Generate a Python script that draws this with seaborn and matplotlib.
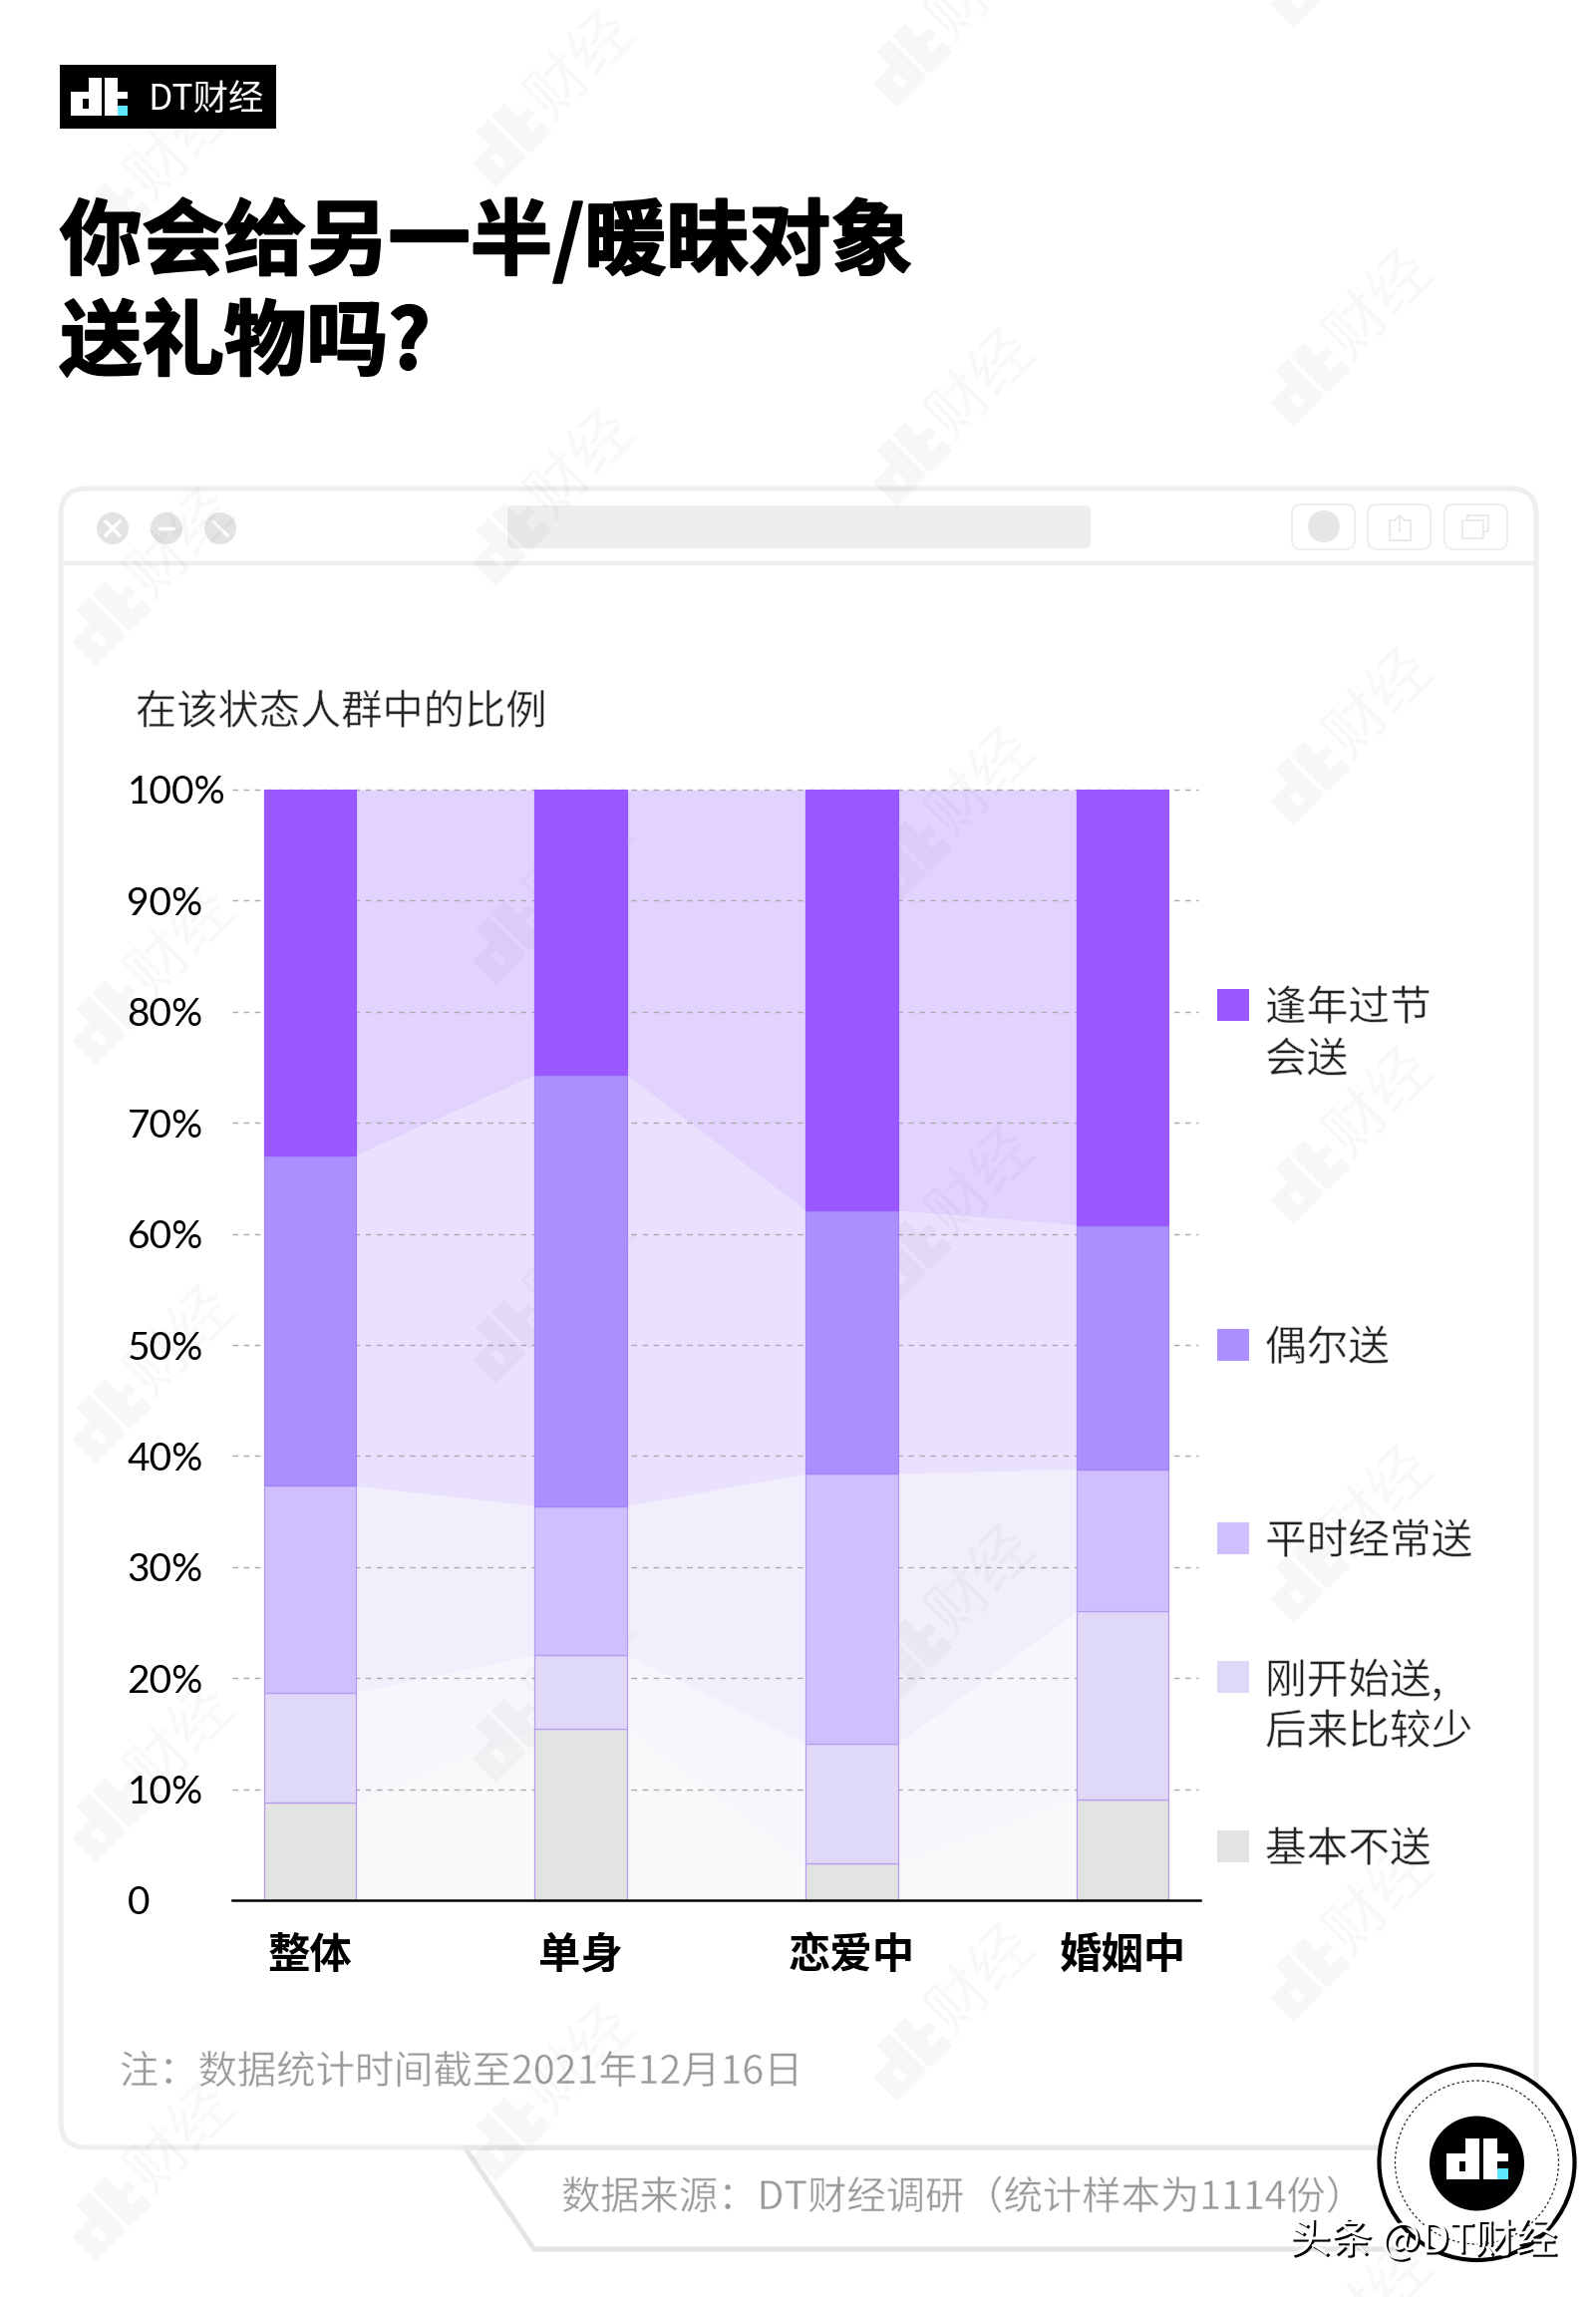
import numpy as np
import pandas as pd
import seaborn as sns
import matplotlib.pyplot as plt
import matplotlib.patheffects as pe
from matplotlib.patches import Rectangle, Circle, FancyBboxPatch, PathPatch
from matplotlib.path import Path
from matplotlib.transforms import Affine2D

groups = ['整体', '单身', '恋爱中', '婚姻中']
# dal basso verso l'alto
never = [8.8, 15.4, 3.3, 9.1]
less_later = [9.9, 6.7, 10.8, 16.9]
often = [18.6, 13.4, 24.3, 12.8]
sometimes = [29.8, 38.8, 23.7, 22.0]
holidays = [32.9, 25.7, 37.9, 39.2]
series = [never, less_later, often, sometimes, holidays]

bar_colors = ['#E3E3E3', '#DFD9F7', '#CFBFFE', '#AC8FFF', '#9857FF']
area_colors = ['#F9F9F9', '#F7F6FC', '#F2EFFD', '#EAE1FE', '#E2D3FE']
edge_colors = ['#B79BEF', '#B79BEF', '#B79BEF', '#A184F5', '#9857FF']

legend_labels = [['基本不送'], ['刚开始送,', '后来比较少'], ['平时经常送'], ['偶尔送'], ['逢年过节', '会送']]
legend_y = [1852, 1682, 1543, 1349, 1008]

y_ticks = [0, 10, 20, 30, 40, 50, 60, 70, 80, 90, 100]
y_labels = ['0', '10%', '20%', '30%', '40%', '50%', '60%', '70%', '80%', '90%', '100%']

W, H = 1601, 2304
CJK = ['Noto Sans CJK SC', 'DejaVu Sans']

sns.set_theme(style='white')
plt.rcParams['font.family'] = CJK
plt.rcParams['axes.unicode_minus'] = False

# il font light non c'e': bordo bianco sopra il glifo per assottigliarlo
THIN = [pe.Normal(), pe.Stroke(linewidth=0.45, foreground='white')]
HEAVY = [pe.withStroke(linewidth=1.6, foreground='black')]

fig = plt.figure(figsize=(W / 100, H / 100), dpi=100, facecolor='white')
bg = fig.add_axes([0, 0, 1, 1], zorder=0)
bg.set_xlim(0, W)
bg.set_ylim(H, 0)
bg.axis('off')


def dt_logo(ax, tf, color, dot_color, alpha=1.0, zorder=3):
    # logo "dt." come path unico, il buco della d resta trasparente
    verts = [(0, 14), (18, 14), (18, 0), (31, 0), (31, 38), (0, 38), (0, 14),
             (12, 21), (12, 31), (18, 31), (18, 21), (12, 21),
             (34, 0), (47, 0), (47, 14), (57, 14), (57, 21), (47, 21), (47, 38), (34, 38), (34, 0)]
    codes = [Path.MOVETO] + [Path.LINETO] * 5 + [Path.CLOSEPOLY]
    codes = codes + [Path.MOVETO] + [Path.LINETO] * 3 + [Path.CLOSEPOLY] + [Path.MOVETO] + [Path.LINETO] * 7 + [Path.CLOSEPOLY]
    ax.add_patch(PathPatch(Path(verts, codes), fc=color, ec='none', alpha=alpha, zorder=zorder, transform=tf + ax.transData))
    ax.add_patch(Rectangle((47, 28), 10, 10, fc=dot_color, ec='none', alpha=alpha, zorder=zorder, transform=tf + ax.transData))


# testata
bg.add_patch(Rectangle((60, 65), 217, 64, fc='black', ec='none'))
dt_logo(bg, Affine2D().translate(71, 78), 'white', '#5EE8FF')
bg.text(148, 100, 'DT财经', color='white', fontsize=25.5, va='center', ha='left')
bg.text(60, 244, '你会给另一半/暖昧对象', fontsize=59.3, weight='bold', color='black', va='center', ha='left', path_effects=HEAVY)
bg.text(60, 346, '送礼物吗?', fontsize=59.3, weight='bold', color='black', va='center', ha='left', path_effects=HEAVY)

# finestra
frame = '#EEEEEE'
bg.add_patch(FancyBboxPatch((61, 490), 1480, 1664, boxstyle='round,pad=0,rounding_size=26', fc='white', ec=frame, lw=3.6))
bg.plot([61, 1541], [565, 565], color=frame, lw=3.2, solid_capstyle='butt')
bg.add_patch(FancyBboxPatch((509, 507), 585, 43, boxstyle='round,pad=0,rounding_size=6', fc='#EEEEEE', ec='none'))
for cx in [113, 167, 221]:
    bg.add_patch(Circle((cx, 530), 16, fc='#E3E3E3', ec='none'))
bg.plot([106, 120], [523, 537], color='white', lw=2.5)
bg.plot([106, 120], [537, 523], color='white', lw=2.5)
bg.plot([160, 174], [530, 530], color='white', lw=2.5)
bg.plot([214, 228], [523, 537], color='white', lw=2.5)
for bx in [1296, 1372, 1449]:
    bg.add_patch(FancyBboxPatch((bx, 506), 63, 45, boxstyle='round,pad=0,rounding_size=9', fc='white', ec='#EDEDED', lw=1.3))
bg.add_patch(Circle((1328, 528), 16, fc='#E5E5E5', ec='none'))
bg.plot([1399, 1394, 1394, 1415, 1415, 1410], [522, 522, 542, 542, 522, 522], color='#E8E8E8', lw=1.2)
bg.plot([1404, 1404], [517, 533], color='#E8E8E8', lw=1.2)
bg.plot([1399, 1404, 1409], [522, 517, 522], color='#E8E8E8', lw=1.2)
bg.add_patch(Rectangle((1467, 522), 21, 18, fc='none', ec='#E8E8E8', lw=1.2))
bg.plot([1472, 1472, 1493, 1493, 1488], [522, 517, 517, 533, 533], color='#E8E8E8', lw=1.2)

# linguetta della fonte
bg.plot([466, 536, 1420], [2154, 2256, 2256], color='#E5E5E5', lw=3.6, solid_joinstyle='miter')
bg.plot([466, 1420], [2154, 2154], color='#E8E8E8', lw=3.6)

bg.text(136, 715, '在该状态人群中的比例', fontsize=29.7, color='#222222', va='center', ha='left', path_effects=THIN)
bg.text(120, 2079, '注：数据统计时间截至2021年12月16日', fontsize=28.3, color='#999999', va='center', ha='left', path_effects=THIN)
bg.text(563, 2205, '数据来源：DT财经调研（统计样本为1114份）', fontsize=28.3, color='#999999', va='center', ha='left', path_effects=THIN)

# legenda
for color, lines, ly in zip(bar_colors, legend_labels, legend_y):
    bg.add_patch(Rectangle((1221, ly - 16), 32, 32, fc=color, ec='none'))
    for j, line in enumerate(lines):
        bg.text(1269, ly + 4 + j * 52, line, fontsize=30, color='#222222', va='center', ha='left', path_effects=THIN)

# badge
bg.add_patch(Circle((1481.5, 2169), 98, fc='white', ec='black', lw=3, zorder=4))
bg.add_patch(Circle((1481.5, 2169), 82, fc='none', ec='#222222', lw=0.9, ls=(0, (2, 2)), zorder=4))
bg.add_patch(Circle((1481.5, 2170), 47.5, fc='black', ec='none', zorder=4))
dt_logo(bg, Affine2D().scale(1.08).translate(1451, 2145), 'white', '#5EE8FF', zorder=5)
bg.text(1293, 2247, '头条 @DT财经', fontsize=30, color='white', va='center', ha='left', zorder=6,
        path_effects=[pe.SimplePatchShadow(offset=(1.5, -1.5), shadow_rgbFace='black', alpha=1), pe.Normal()])

rect = [233 / W, 1 - 1906 / H, 971 / W, 1114 / H]
bar_w = 0.34
x = np.arange(len(groups))
tops = np.cumsum(np.array(series), axis=0)
bottoms = np.vstack([np.zeros(len(groups)), tops[:-1]])

# fasce e griglia sotto la filigrana, barre sopra
ax_area = fig.add_axes(rect, zorder=1)
ax_area.patch.set_alpha(0)
for i in range(len(series)):
    for k in range(len(groups) - 1):
        ax_area.fill_between([x[k] + bar_w / 2, x[k + 1] - bar_w / 2], [bottoms[i][k], bottoms[i][k + 1]],
                             [tops[i][k], tops[i][k + 1]], color=area_colors[i], lw=0, zorder=1)
ax_area.hlines(y_ticks[1:], -0.287, 3.28, color='#ABABAB', lw=1, ls=(0, (4, 4)), zorder=2, clip_on=False)
ax_area.set_xlim(-0.287, 3.287)
ax_area.set_ylim(0, 100)
ax_area.axis('off')

wm = fig.add_axes([0, 0, 1, 1], zorder=2)
wm.set_xlim(0, W)
wm.set_ylim(H, 0)
wm.axis('off')
col_x = [152, 553, 955, 1354]
col_y0 = [175, 95, 15, -65]
for cx, y0 in zip(col_x, col_y0):
    for cy in range(y0, H + 200, 400):
        tf = Affine2D().scale(1.4).translate(-105, -27).rotate_deg(-45).translate(cx, cy)
        dt_logo(wm, tf, 'black', 'black', alpha=0.03, zorder=1)
        tx, ty = Affine2D().translate(-18, 0).rotate_deg(-45).translate(cx, cy).transform((0, 0))
        wm.text(tx, ty, '财经', fontsize=44, color='black', alpha=0.03, rotation=45, rotation_mode='anchor',
                va='center', ha='left', clip_on=True)

# grafico
ax = fig.add_axes(rect, zorder=3)
ax.patch.set_alpha(0)
for i, vals in enumerate(series):
    sns.barplot(x=groups, y=vals, bottom=bottoms[i], color=bar_colors[i], saturation=1, width=bar_w,
                edgecolor=edge_colors[i], linewidth=0.9, errorbar=None, ax=ax, zorder=2)

ax.set_xlim(-0.287, 3.287)
ax.set_ylim(0, 100)
ax.grid(False)
ax.set_yticks(y_ticks)
ax.set_yticklabels(y_labels, fontsize=28, color='black', ha='left', family=['Lato', 'DejaVu Sans'])
ax.tick_params(axis='y', length=0, pad=76)
ax.set_xticks(x)
ax.set_xticklabels(groups, fontsize=30.5, weight='bold', color='black')
ax.tick_params(axis='x', length=0, pad=25)
ax.set_xlabel('')
ax.set_ylabel('')
sns.despine(ax=ax, left=True)
ax.spines['bottom'].set_color('black')
ax.spines['bottom'].set_linewidth(1.8)

fig.savefig('out.png', dpi=100)
